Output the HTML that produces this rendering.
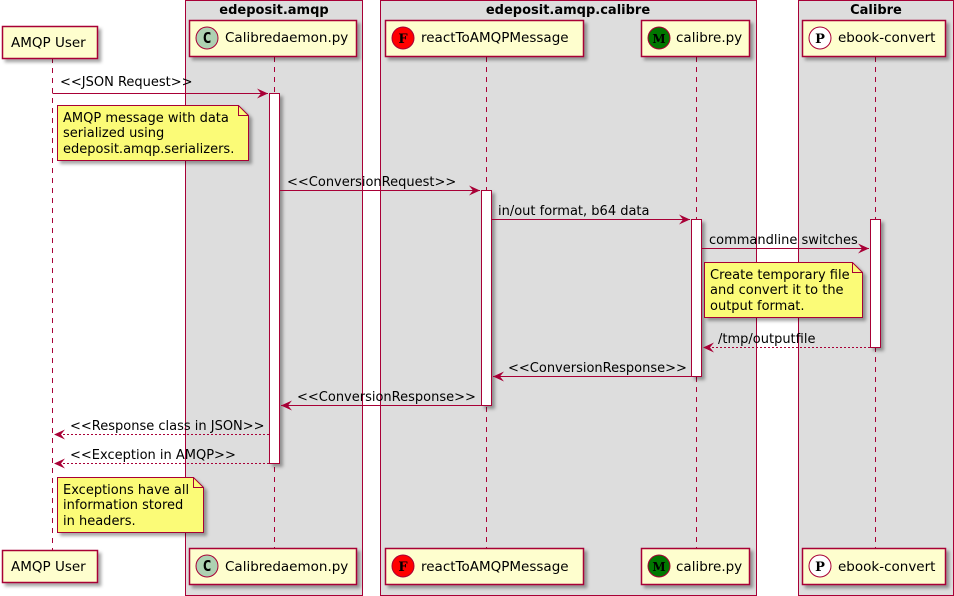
<!DOCTYPE html>
<html><head><style>body{margin:0;background:#fff}svg{display:block}text{font-family:"DejaVu Sans","Liberation Sans",sans-serif;font-size:13px;fill:#000}</style></head><body>
<svg width="954" height="596" viewBox="0 0 954 596" xmlns="http://www.w3.org/2000/svg">
<defs>
<filter id="sh" x="-10%" y="-10%" width="130%" height="140%"><feDropShadow dx="3" dy="3" stdDeviation="1.5" flood-color="#000" flood-opacity="0.35"/></filter>
<marker id="ar" markerWidth="12" markerHeight="10" refX="11" refY="5" orient="auto" markerUnits="userSpaceOnUse"><path d="M0,0 L11,5 L0,10 L4,5 Z" fill="#A80036"/></marker>
</defs>
<g stroke="#A80036" stroke-width="1" fill="#DDDDDD">
<rect x="185.5" y="0.5" width="177" height="595"/>
<rect x="380.5" y="0.5" width="376" height="595"/>
<rect x="798.5" y="0.5" width="155" height="595"/>
</g>
<g text-anchor="middle">
<text x="274" y="14" style="font-weight:bold">edeposit.amqp</text>
<text x="568" y="14" style="font-weight:bold">edeposit.amqp.calibre</text>
<text x="876" y="14" style="font-weight:bold">Calibre</text>
</g>
<g stroke="#A80036" stroke-dasharray="5,5">
<line x1="52.5" y1="58" x2="52.5" y2="550"/>
<line x1="274.5" y1="57" x2="274.5" y2="550"/>
<line x1="486.5" y1="57" x2="486.5" y2="550"/>
<line x1="696.5" y1="57" x2="696.5" y2="550"/>
<line x1="875.5" y1="57" x2="875.5" y2="550"/>
</g>
<g fill="#FEFECE" stroke="#A80036" stroke-width="1.5" filter="url(#sh)">
<rect x="2.5" y="26.5" width="95" height="32"/>
<rect x="189.5" y="20.5" width="167" height="36"/>
<rect x="385.5" y="20.5" width="198" height="36"/>
<rect x="641.5" y="20.5" width="108" height="36"/>
<rect x="802.5" y="20.5" width="143" height="36"/>
<rect x="2.5" y="550.5" width="95" height="32"/>
<rect x="189.5" y="548.5" width="167" height="36"/>
<rect x="385.5" y="548.5" width="198" height="36"/>
<rect x="641.5" y="548.5" width="108" height="36"/>
<rect x="802.5" y="548.5" width="143" height="36"/>
</g>
<g>
<text x="11" y="47" style="font-size:13.5px">AMQP User</text>
<text x="11" y="571" style="font-size:13.5px">AMQP User</text>
</g>
<g stroke="#A80036" stroke-width="1">
<circle cx="207" cy="38" r="11" fill="#ADD1B2"/><circle cx="207" cy="566" r="11" fill="#ADD1B2"/>
<circle cx="403" cy="38" r="11" fill="#FF0000"/><circle cx="403" cy="566" r="11" fill="#FF0000"/>
<circle cx="659" cy="38" r="11" fill="#007700"/><circle cx="659" cy="566" r="11" fill="#007700"/>
<circle cx="820" cy="38" r="11" fill="#FFFFFF"/><circle cx="820" cy="566" r="11" fill="#FFFFFF"/>
</g>
<g text-anchor="middle">
<text x="207" y="43" style="font-family:'DejaVu Sans Mono',monospace;font-weight:bold;font-size:15px">C</text>
<text x="207" y="571" style="font-family:'DejaVu Sans Mono',monospace;font-weight:bold;font-size:15px">C</text>
<text x="403" y="43" style="font-family:'DejaVu Serif',serif;font-weight:bold;font-size:13px">F</text>
<text x="403" y="571" style="font-family:'DejaVu Serif',serif;font-weight:bold;font-size:13px">F</text>
<text x="659" y="43" style="font-family:'DejaVu Serif',serif;font-weight:bold;font-size:12px">M</text>
<text x="659" y="571" style="font-family:'DejaVu Serif',serif;font-weight:bold;font-size:12px">M</text>
<text x="820" y="43" style="font-family:'DejaVu Serif',serif;font-weight:bold;font-size:13px">P</text>
<text x="820" y="571" style="font-family:'DejaVu Serif',serif;font-weight:bold;font-size:13px">P</text>
</g>
<g>
<text x="225" y="42" style="font-size:13.5px">Calibredaemon.py</text><text x="225" y="571" style="font-size:13.5px">Calibredaemon.py</text>
<text x="421" y="42" style="font-size:13.5px">reactToAMQPMessage</text><text x="421" y="571" style="font-size:13.5px">reactToAMQPMessage</text>
<text x="676" y="42" style="font-size:13.5px">calibre.py</text><text x="676" y="571" style="font-size:13.5px">calibre.py</text>
<text x="838" y="42" style="font-size:13.5px">ebook-convert</text><text x="838" y="571" style="font-size:13.5px">ebook-convert</text>
</g>
<g fill="#FFFFFF" stroke="#A80036" filter="url(#sh)">
<rect x="269.5" y="93.5" width="10" height="370"/>
<rect x="481.5" y="190.5" width="10" height="215"/>
<rect x="691.5" y="219.5" width="10" height="157"/>
<rect x="870.5" y="219.5" width="10" height="128"/>
</g>
<g stroke="#A80036" fill="#FBFB77" filter="url(#sh)">
<path d="M57.5,105.5 H238.5 L248.5,115.5 V160.5 H57.5 Z"/>
<path d="M704.5,262.5 H852.5 L862.5,272.5 V317.5 H704.5 Z"/>
<path d="M57.5,477.5 H193.5 L203.5,487.5 V532.5 H57.5 Z"/>
</g>
<g stroke="#A80036" fill="none">
<path d="M238.5,105.5 V115.5 H248.5"/><path d="M852.5,262.5 V272.5 H862.5"/><path d="M193.5,477.5 V487.5 H203.5"/>
</g>
<g stroke="#A80036" stroke-width="1">
<line x1="52.5" y1="93.5" x2="268" y2="93.5" marker-end="url(#ar)"/>
<line x1="279.5" y1="190.5" x2="480" y2="190.5" marker-end="url(#ar)"/>
<line x1="491.5" y1="219.5" x2="690" y2="219.5" marker-end="url(#ar)"/>
<line x1="701.5" y1="248.5" x2="869" y2="248.5" marker-end="url(#ar)"/>
<line x1="870" y1="347.5" x2="703" y2="347.5" stroke-dasharray="2,2" marker-end="url(#ar)"/>
<line x1="691" y1="376.5" x2="493" y2="376.5" marker-end="url(#ar)"/>
<line x1="481" y1="405.5" x2="281" y2="405.5" marker-end="url(#ar)"/>
<line x1="269" y1="434.5" x2="54" y2="434.5" stroke-dasharray="2,2" marker-end="url(#ar)"/>
<line x1="269" y1="463.5" x2="54" y2="463.5" stroke-dasharray="2,2" marker-end="url(#ar)"/>
</g>
<g>
<text x="60" y="86">&lt;&lt;JSON Request&gt;&gt;</text>
<text x="287" y="186">&lt;&lt;ConversionRequest&gt;&gt;</text>
<text x="498" y="215">in/out format, b64 data</text>
<text x="709" y="244">commandline switches</text>
<text x="718" y="343">/tmp/outputfile</text>
<text x="508" y="372">&lt;&lt;ConversionResponse&gt;&gt;</text>
<text x="297" y="401">&lt;&lt;ConversionResponse&gt;&gt;</text>
<text x="70" y="430">&lt;&lt;Response class in JSON&gt;&gt;</text>
<text x="70" y="459">&lt;&lt;Exception in AMQP&gt;&gt;</text>
</g>
<g>
<text x="63" y="122">AMQP message with data</text>
<text x="63" y="137">serialized using</text>
<text x="63" y="153">edeposit.amqp.serializers.</text>
<text x="710" y="279">Create temporary file</text>
<text x="710" y="294">and convert it to the</text>
<text x="710" y="310">output format.</text>
<text x="63" y="494">Exceptions have all</text>
<text x="63" y="509">information stored</text>
<text x="63" y="525">in headers.</text>
</g>
</svg>
</body></html>
